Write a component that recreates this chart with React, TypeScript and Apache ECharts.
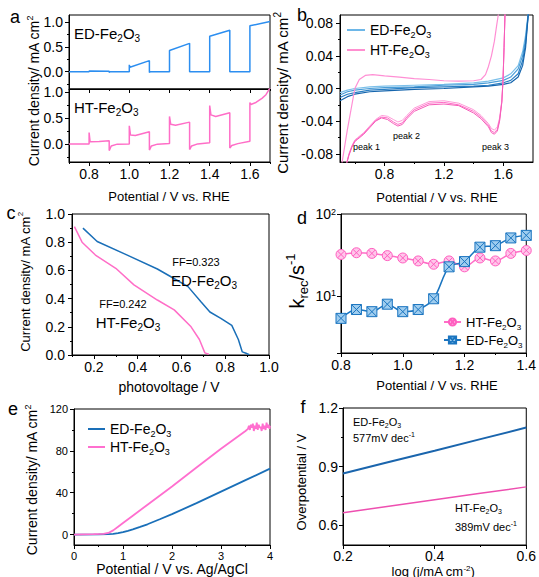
import React, { useEffect, useRef } from 'react';
import * as echarts from 'echarts';

const FONT = 'Arial, "Liberation Sans", Helvetica, sans-serif';

// ---------- panel a : chopped LSV ----------
const aED_V = [0.7, 0.8, 0.8, 0.802, 0.9, 0.9, 0.905, 1.0, 1.0, 1.003, 1.1, 1.1, 1.105, 1.2, 1.2, 1.3, 1.3, 1.4, 1.4, 1.5, 1.5, 1.6, 1.6, 1.7];
const aED_J = [0, 0, 0.015, 0.008, 0.012, -0.015, 0, 0, 0.14, 0.09, 0.225, -0.015, 0, 0, 0.43, 0.575, 0, 0, 0.72, 0.84, 0, 0, 0.93, 1.02];
const aHT_V = [0.7, 0.8, 0.8, 0.805, 0.85, 0.9, 0.9, 0.91, 0.94, 1.0, 1.0, 1.006, 1.03, 1.1, 1.1, 1.11, 1.14, 1.2, 1.2, 1.206, 1.23, 1.3, 1.3, 1.31, 1.34, 1.4, 1.4, 1.406, 1.43, 1.5, 1.5, 1.51, 1.54, 1.6, 1.6, 1.605, 1.63, 1.66, 1.68, 1.7];
const aHT_J = [0, 0, 0.22, 0.04, 0.045, 0.06, -0.13, -0.04, -0.005, 0, 0.35, 0.17, 0.16, 0.235, -0.12, -0.04, -0.005, 0.005, 0.53, 0.38, 0.36, 0.42, -0.11, -0.04, 0, 0.02, 0.74, 0.56, 0.53, 0.6, -0.08, -0.03, 0.005, 0.05, 0.8, 0.76, 0.8, 0.88, 0.95, 1.08];
const aXTicks = [0.8, 1.0, 1.2, 1.4, 1.6];
const aXMinor = [0.7, 0.9, 1.1, 1.3, 1.5, 1.7];
const aYTicks = [0, 0.5, 1.0];
const aYMinor = [-0.25, 0.25, 0.75];

// ---------- panel b : CV ----------
const bED_V = [0.5, 0.55, 0.6, 0.7, 0.8, 1.0, 1.2, 1.4, 1.5, 1.6, 1.65, 1.7, 1.73, 1.75, 1.77];
const bED_J1 = [-0.005, -0.002, 0.0, 0.002, 0.003, 0.004, 0.005, 0.007, 0.009, 0.013, 0.018, 0.028, 0.045, 0.065, 0.095];
const bED_J2 = [-0.008, -0.004, -0.002, 0.0, 0.001, 0.002, 0.004, 0.005, 0.007, 0.010, 0.014, 0.024, 0.040, 0.060, 0.095];
const bED_J3 = [-0.011, -0.007, -0.005, -0.002, -0.001, 0.001, 0.002, 0.003, 0.004, 0.007, 0.010, 0.018, 0.034, 0.055, 0.095];
const bED_J4 = [-0.015, -0.010, -0.007, -0.004, -0.003, -0.001, 0.0, 0.002, 0.003, 0.005, 0.007, 0.014, 0.028, 0.050, 0.095];
const bHTf_V = [0.51, 0.55, 0.6, 0.63, 0.67, 0.72, 0.8, 0.9, 1.0, 1.1, 1.2, 1.3, 1.4, 1.45, 1.48, 1.5, 1.52, 1.54, 1.555, 1.566, 1.575];
const bHTf_J = [-0.095, -0.05, 0, 0.011, 0.016, 0.017, 0.0155, 0.014, 0.012, 0.011, 0.0095, 0.009, 0.0095, 0.011, 0.017, 0.027, 0.04, 0.058, 0.077, 0.09, 0.1];
const bHTr_V = [1.612, 1.605, 1.598, 1.59, 1.575, 1.56, 1.54, 1.52, 1.5, 1.45, 1.4, 1.3, 1.2, 1.1, 1.0, 0.95, 0.92, 0.89, 0.86, 0.82, 0.78, 0.74, 0.7, 0.66, 0.62, 0.6, 0.58, 0.56, 0.54];
const bHTr_J1 = [0.095, 0.05, 0.01, -0.015, -0.036, -0.047, -0.051, -0.049, -0.043, -0.033, -0.026, -0.018, -0.015, -0.016, -0.024, -0.033, -0.039, -0.041, -0.038, -0.034, -0.033, -0.038, -0.046, -0.054, -0.06, -0.063, -0.07, -0.08, -0.095];
const bHTr_J2 = [0.095, 0.05, 0.01, -0.016, -0.038, -0.05, -0.054, -0.052, -0.045, -0.035, -0.028, -0.02, -0.017, -0.018, -0.026, -0.035, -0.042, -0.044, -0.041, -0.036, -0.035, -0.039, -0.047, -0.055, -0.061, -0.064, -0.071, -0.081, -0.095];
const bHTr_J3 = [0.095, 0.05, 0.01, -0.017, -0.04, -0.052, -0.056, -0.054, -0.047, -0.037, -0.03, -0.021, -0.019, -0.02, -0.028, -0.037, -0.044, -0.046, -0.043, -0.038, -0.036, -0.04, -0.048, -0.056, -0.062, -0.065, -0.072, -0.082, -0.095];
const bXTicks = [0.8, 1.2, 1.6];
const bXMinor = [0.6, 1.0, 1.4];
const bYTicks = [-0.08, -0.04, 0, 0.04, 0.08];
const bYMinor = [-0.06, -0.02, 0.02, 0.06];

// ---------- panel c : photovoltage ----------
const cED_V = [0.15, 0.215, 0.35, 0.49, 0.56, 0.63, 0.69, 0.73, 0.78, 0.83, 0.86, 0.878, 0.895, 0.91];
const cED_J = [0.90, 0.805, 0.71, 0.61, 0.548, 0.485, 0.376, 0.305, 0.26, 0.21, 0.11, 0.022, 0.012, 0.003];
const cHT_V = [0.111, 0.146, 0.207, 0.30, 0.383, 0.49, 0.567, 0.644, 0.682, 0.707, 0.725];
const cHT_J = [0.91, 0.80, 0.709, 0.615, 0.497, 0.39, 0.32, 0.2, 0.11, 0.015, 0.005];
const cXTicks = [0.2, 0.4, 0.6, 0.8, 1.0];
const cXMinor = [0.1, 0.3, 0.5, 0.7, 0.9];
const cYTicks = [0, 0.2, 0.4, 0.6, 0.8, 1.0];
const cYMinor = [0.1, 0.3, 0.5, 0.7, 0.9];

// ---------- panel d : k_rec ----------
const dV = [0.8, 0.85, 0.9, 0.95, 1.0, 1.05, 1.1, 1.15, 1.2, 1.25, 1.3, 1.35, 1.4];
const dHT = [32, 33.6, 33, 31, 29, 26.7, 24.3, 26.7, 22.6, 29, 26.7, 33, 35.8];
const dED = [5.3, 6.8, 6.4, 7.9, 6.4, 6.8, 9.2, 22.6, 26.2, 39.3, 41, 51, 54.8];
const dXTicks = [0.8, 1.0, 1.2, 1.4];
const dXMinor = [0.9, 1.1, 1.3];

// ---------- panel e : LSV vs Ag/AgCl ----------
const eED_V = [0, 0.5, 0.7, 0.8, 0.9, 1.0, 1.1, 1.2, 1.35, 1.5, 1.75, 2.0, 2.5, 3.0, 3.5, 4.0];
const eED_J = [0, 0.2, 0.4, 0.7, 1.3, 2.3, 3.6, 5.0, 7.3, 9.8, 14.6, 19.5, 30, 41, 52, 63];
const eHT_V = [0, 0.4, 0.6, 0.7, 0.8, 0.9, 1.0, 1.2, 1.5, 2.0, 2.5, 3.0, 3.5, 3.55, 3.57, 3.59, 3.61, 3.63, 3.65, 3.67, 3.69, 3.71, 3.73, 3.75, 3.77, 3.79, 3.81, 3.83, 3.85, 3.87, 3.89, 3.91, 3.93, 3.95, 3.97, 3.99, 4.0];
const eHT_J = [0, 0.3, 0.6, 1.5, 4, 7.5, 11, 18, 28.5, 46, 64, 82, 99, 101, 104, 100, 105, 102, 106, 99, 104, 101, 107, 100, 105, 102, 103, 99, 106, 101, 104, 100, 107, 102, 105, 101, 104];
const eXTicks = [0, 1, 2, 3, 4];
const eXMinor = [0.5, 1.5, 2.5, 3.5];
const eYTicks = [0, 40, 80, 120];
const eYMinor = [20, 60, 100];

// ---------- panel f : Tafel ----------
const fLogJ = [0.2, 0.3, 0.4, 0.5, 0.6];
const fED = [0.865, 0.924, 0.982, 1.041, 1.1];
const fHT = [0.665, 0.698, 0.731, 0.764, 0.797];
const fXTicks = [0.2, 0.4, 0.6];
const fXMinor = [0.3, 0.5];
const fYTicks = [0.6, 0.9, 1.2];
const fYMinor = [0.75, 1.05];

const zip = (xs: number[], ys: number[]) => xs.map((x, i) => [x, ys[i]]);

const FE = 'Fe{sub|2}O{sub|3}';
const LEGEND_TEXT: Record<string, string> = {
  'b:ED': 'ED-' + FE, 'b:HT': 'HT-' + FE,
  'd:ED': 'ED-' + FE, 'd:HT': 'HT-' + FE,
  'e:ED': 'ED-' + FE, 'e:HT': 'HT-' + FE,
};

const richC = (s: number) => ({
  sub: { fontSize: Math.round(s * 0.65), fontFamily: FONT, color: '#000', verticalAlign: 'bottom', lineHeight: Math.round(s * 0.75) },
  sup: { fontSize: Math.round(s * 0.65), fontFamily: FONT, color: '#000', verticalAlign: 'top', lineHeight: Math.round(s * 0.75) },
});
const richG = (s: number) => ({
  sub: { fontSize: Math.round(s * 0.65), fontFamily: FONT, fill: '#000', verticalAlign: 'bottom', lineHeight: Math.round(s * 0.75) },
  sup: { fontSize: Math.round(s * 0.65), fontFamily: FONT, fill: '#000', verticalAlign: 'top', lineHeight: Math.round(s * 0.75) },
});

type AxOpt = { min: number; max: number; majors: number[]; minors?: number[]; labels?: boolean; dec?: number; fs?: number; margin?: number; lh?: number };

function addAxis(list: any[], dim: 'x' | 'y', gridIndex: number, o: AxOpt) {
  const position = dim === 'x' ? 'bottom' : 'left';
  const idx = list.length;
  list.push({
    type: 'value', gridIndex, position, min: o.min, max: o.max,
    axisLine: { show: true, onZero: false, lineStyle: { color: '#000', width: 1 } },
    axisTick: { show: true, length: 4, customValues: o.majors, lineStyle: { color: '#000', width: 1 } },
    axisLabel: {
      show: o.labels !== false, customValues: o.majors, margin: o.margin ?? 6, fontSize: o.fs ?? 14,
      lineHeight: o.lh, color: '#000', fontFamily: FONT, formatter: (v: number) => v.toFixed(o.dec ?? 1),
    },
    splitLine: { show: false },
  });
  if (o.minors && o.minors.length) {
    list.push({
      type: 'value', gridIndex, position, min: o.min, max: o.max,
      axisLine: { show: false, onZero: false },
      axisTick: { show: true, length: 2, customValues: o.minors, lineStyle: { color: '#000', width: 1 } },
      axisLabel: { show: false }, splitLine: { show: false },
    });
  }
  return idx;
}

function line(name: string, xi: number, yi: number, data: number[][], color: string, width: number, extra: any = {}) {
  return {
    type: 'line', name, xAxisIndex: xi, yAxisIndex: yi, data, color,
    symbol: 'none', showSymbol: false, silent: true, clip: true,
    lineStyle: { color, width }, itemStyle: { color }, ...extra,
  };
}

function txt(x: number, y: number, text: string, size: number, align = 'center', rotate = false, lh?: number) {
  return {
    type: 'text', x, y, rotation: rotate ? Math.PI / 2 : 0, silent: true, z: 100,
    style: {
      text, fontSize: size, fontFamily: FONT, fill: '#000', align, verticalAlign: 'middle',
      lineHeight: lh ?? Math.round(size * 1.3), rich: richG(size),
    },
  };
}

const SQ_X = 'path://M0,0L10,0L10,10L0,10ZM0,0L10,10M10,0L0,10';
const CI_X = 'path://M5,0A5,5,0,1,1,5,10A5,5,0,1,1,5,0ZM1.6,1.6L8.4,8.4M8.4,1.6L1.6,8.4';

function buildOption() {
  const gridRects = [
    { left: 69, top: 15, width: 201, height: 74 },   // a top
    { left: 69, top: 89, width: 201, height: 73 },   // a bottom
    { left: 340, top: 15, width: 193, height: 147 }, // b
    { left: 72, top: 214, width: 197, height: 141 }, // c
    { left: 341, top: 214, width: 195, height: 139 },// d
    { left: 74, top: 409, width: 196, height: 136 }, // e
    { left: 343, top: 408, width: 186, height: 137 },// f
  ];
  const grid = gridRects.map((g) => ({ ...g, show: true, borderColor: '#000', borderWidth: 1, backgroundColor: 'transparent' }));
  const xA: any[] = [];
  const yA: any[] = [];

  // a
  const xa0 = addAxis(xA, 'x', 0, { min: 0.7, max: 1.7, majors: aXTicks, minors: aXMinor, labels: false });
  const ya0 = addAxis(yA, 'y', 0, { min: -0.35, max: 1.15, majors: aYTicks, minors: aYMinor, margin: 6 });
  const xa1 = addAxis(xA, 'x', 1, { min: 0.7, max: 1.7, majors: aXTicks, minors: aXMinor, margin: 5 });
  const ya1 = addAxis(yA, 'y', 1, { min: -0.35, max: 1.06, majors: aYTicks, minors: aYMinor, margin: 6 });
  // b
  const xb = addAxis(xA, 'x', 2, { min: 0.5, max: 1.8, majors: bXTicks, minors: bXMinor, margin: 5 });
  const yb = addAxis(yA, 'y', 2, { min: -0.09, max: 0.09, majors: bYTicks, minors: bYMinor, dec: 2, margin: 7 });
  // c
  const xc = addAxis(xA, 'x', 3, { min: 0.1, max: 1.0, majors: cXTicks, minors: cXMinor, margin: 5 });
  const yc = addAxis(yA, 'y', 3, { min: 0, max: 1.0, majors: cYTicks, minors: cYMinor, margin: 7 });
  // d
  const xd = addAxis(xA, 'x', 4, { min: 0.8, max: 1.4, majors: dXTicks, minors: dXMinor, margin: 5 });
  const yd = yA.length;
  yA.push({
    type: 'log', logBase: 10, gridIndex: 4, position: 'left', min: 2, max: 100,
    axisLine: { show: true, onZero: false, lineStyle: { color: '#000', width: 1 } },
    axisTick: { show: true, length: 4, lineStyle: { color: '#000' } },
    axisLabel: {
      margin: 5, fontSize: 14, color: '#000', fontFamily: FONT, rich: richC(14),
      formatter: (v: number) => {
        const l = Math.log10(v);
        const r = Math.round(l);
        return Math.abs(l - r) < 1e-6 && r >= 1 ? '10{sup|' + r + '}' : '';
      },
    },
    splitLine: { show: false },
  });
  // e
  const xe = addAxis(xA, 'x', 5, { min: 0, max: 4, majors: eXTicks, minors: eXMinor, dec: 0, fs: 11, margin: 5 });
  const ye = addAxis(yA, 'y', 5, { min: -10, max: 120, majors: eYTicks, minors: eYMinor, dec: 0, fs: 11, margin: 6 });
  // f
  const xf = addAxis(xA, 'x', 6, { min: 0.2, max: 0.6, majors: fXTicks, minors: fXMinor, margin: 4, lh: 14 });
  const yf = addAxis(yA, 'y', 6, { min: 0.5, max: 1.2, majors: fYTicks, minors: fYMinor, margin: 5 });

  const BLUE = '#1a6fb8';
  const PINK = '#ff6ec7';

  const series: any[] = [
    // a
    line('a:ED', xa0, ya0, zip(aED_V, aED_J), '#2c8ef0', 1.5),
    line('a:HT', xa1, ya1, zip(aHT_V, aHT_J), PINK, 1.5),
    // b
    line('b:ED', xb, yb, zip(bED_V, bED_J1), '#7cc0ea', 1.2),
    line('b:ED2', xb, yb, zip(bED_V, bED_J2), '#4a9ed8', 1.2),
    line('b:ED3', xb, yb, zip(bED_V, bED_J3), '#2a7fc4', 1.2),
    line('b:ED4', xb, yb, zip(bED_V, bED_J4), '#1565ad', 1.2),
    line('b:HT', xb, yb, zip(bHTf_V, bHTf_J), '#ff8fd4', 1.2),
    line('b:HTr1', xb, yb, zip(bHTr_V, bHTr_J1), '#ff9ad8', 1),
    line('b:HTr2', xb, yb, zip(bHTr_V, bHTr_J2), '#ff6ec7', 1),
    line('b:HTr3', xb, yb, zip(bHTr_V, bHTr_J3), '#f55cb8', 1),
    // c
    line('c:ED', xc, yc, zip(cED_V, cED_J), BLUE, 1.5),
    line('c:HT', xc, yc, zip(cHT_V, cHT_J), PINK, 1.5),
    // d
    line('d:HT', xd, yd, zip(dV, dHT), PINK, 1.5, {
      symbol: CI_X, showSymbol: true, symbolSize: 10, smooth: 0.3,
      itemStyle: { color: '#ffc6ea', borderColor: '#ff5fc0', borderWidth: 1 },
    }),
    line('d:ED', xd, yd, zip(dV, dED), '#1b75c0', 1.5, {
      symbol: SQ_X, showSymbol: true, symbolSize: 10, smooth: 0.3,
      itemStyle: { color: '#9fcdef', borderColor: '#1b75c0', borderWidth: 1 },
    }),
    // e
    line('e:ED', xe, ye, zip(eED_V, eED_J), BLUE, 1.8),
    line('e:HT', xe, ye, zip(eHT_V, eHT_J), '#ff6fcf', 1.8),
    // f
    line('f:ED', xf, yf, zip(fLogJ, fED), '#1a65ad', 2),
    line('f:HT', xf, yf, zip(fLogJ, fHT), '#ee4fb0', 1.5),
  ];

  const legendBase = (s: number) => ({
    orient: 'vertical', padding: 0, itemGap: 0, selectedMode: false,
    formatter: (n: string) => LEGEND_TEXT[n] ?? n,
    textStyle: { fontSize: s, fontFamily: FONT, color: '#000', lineHeight: 18, rich: richC(s) },
  });
  const legend = [
    { ...legendBase(14), left: 347, top: 21, itemGap: 2, icon: 'rect', itemWidth: 18, itemHeight: 2,
      data: [{ name: 'b:ED', itemStyle: { color: '#6db7e8' } }, { name: 'b:HT', itemStyle: { color: '#ff8fd0' } }] },
    { ...legendBase(13), left: 443, top: 313, itemWidth: 17, itemHeight: 9, data: ['d:HT', 'd:ED'] },
    { ...legendBase(14), left: 88, top: 420, icon: 'rect', itemWidth: 17, itemHeight: 2, data: ['e:ED', 'e:HT'] },
  ];

  const graphics = [
    // panel letters
    txt(15, 17, 'a', 18), txt(302, 15, 'b', 18), txt(11, 213, 'c', 18),
    txt(302, 218, 'd', 18), txt(13, 409, 'e', 18), txt(303, 407, 'f', 18),
    // y names
    txt(34, 91, 'Current density/ mA cm{sup|2}', 14, 'center', true),
    txt(282, 93, 'Current density/ mA cm{sup|2}', 15, 'center', true),
    txt(25, 282, 'Current density/ mA cm{sup|2}', 13, 'center', true),
    txt(297, 281, 'k{sub|rec}/s{sup|-1}', 20, 'center', true),
    txt(32, 480, 'Current density/ mA cm{sup|2}', 14, 'center', true),
    txt(301, 482, 'Overpotential / V', 13, 'center', true),
    // x names
    txt(169, 196, 'Potential / V vs. RHE', 13),
    txt(437, 197, 'Potential / V vs. RHE', 13),
    txt(169, 387, 'photovoltage / V', 14),
    txt(437, 385, 'Potential / V vs. RHE', 13),
    txt(172, 569, 'Potential / V vs. Ag/AgCl', 14),
    txt(433, 571, 'log (j/mA cm{sup|-2})', 13, 'center', false, 13),
    // annotations a
    txt(74, 33, 'ED-' + FE, 15, 'left'),
    txt(74, 107, 'HT-' + FE, 15, 'left'),
    // annotations b
    txt(353, 147, 'peak 1', 9, 'left'),
    txt(393, 136, 'peak 2', 9, 'left'),
    txt(482, 147, 'peak 3', 9, 'left'),
    // annotations c
    txt(196, 262, 'FF=0.323', 11),
    txt(204, 280, 'ED-' + FE, 15),
    txt(123, 304, 'FF=0.242', 11),
    txt(128, 322, 'HT-' + FE, 15),
    // annotations f
    txt(353, 422, 'ED-' + FE, 11, 'left'),
    txt(353, 438, '577mV dec{sup|-1}', 11, 'left'),
    txt(455, 508, 'HT-' + FE, 11, 'left'),
    txt(455, 527, '389mV dec{sup|-1}', 11, 'left'),
  ];

  return {
    animation: false,
    backgroundColor: '#ffffff',
    textStyle: { fontFamily: FONT },
    grid, xAxis: xA, yAxis: yA, legend, series,
    graphic: { elements: graphics },
  };
}

export default function App() {
  const ref = useRef<HTMLDivElement>(null);
  useEffect(() => {
    if (!ref.current) return;
    const chart = echarts.init(ref.current, undefined, { renderer: 'svg' });
    chart.setOption(buildOption() as any);
    return () => chart.dispose();
  }, []);
  return (
    <div
      ref={ref}
      style={{ position: 'fixed', left: 0, top: 0, width: 539, height: 577, background: '#fff' }}
    />
  );
}
